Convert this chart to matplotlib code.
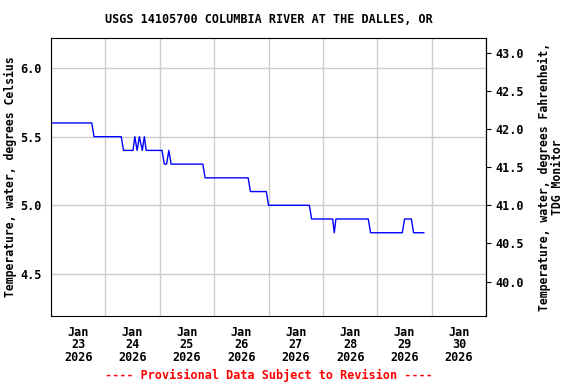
import matplotlib
matplotlib.use("Agg")
import matplotlib.pyplot as plt
import numpy as np
import pandas as pd

# Water temperature readings (hours after Jan 23 2026 00:00, degrees C)
hours = [0, 18, 19, 31, 32, 36.2, 37, 38, 39, 40.3, 41.2, 42, 49, 50, 51, 52, 53,
         67, 68, 87, 88, 95, 96, 114, 115, 124.3, 125, 125.7, 140, 141, 155, 156,
         159, 160, 164.5]
temps = [5.6, 5.6, 5.5, 5.5, 5.4, 5.4, 5.5, 5.4, 5.5, 5.4, 5.5, 5.4, 5.4, 5.3, 5.3, 5.4, 5.3,
         5.3, 5.2, 5.2, 5.1, 5.1, 5.0, 5.0, 4.9, 4.9, 4.8, 4.9, 4.9, 4.8, 4.8, 4.9,
         4.9, 4.8, 4.8]

start = pd.Timestamp("2026-01-23")
times = [start + pd.Timedelta(hours=h) for h in hours]
days = pd.date_range("2026-01-23", "2026-01-31", freq="D")

font = "DejaVu Sans Mono"
fs = 8.5

fig = plt.figure(figsize=(5.76, 3.84), dpi=100)
ax = fig.add_axes([0.0885, 0.177, 0.7555, 0.724])
ax.plot(times, temps, color="blue", linewidth=1)

ax.set_xlim(days[0], days[-1])
ax.set_ylim(4.193, 6.219)
ax.set_yticks([4.5, 5.0, 5.5, 6.0])
ax.set_yticklabels(["4.5", "5.0", "5.5", "6.0"], fontfamily=font, fontweight="bold", fontsize=fs)
ax.tick_params(axis="y", length=0, pad=6.5)

# midnight gridlines, labels centred at noon
ax.set_xticks(days)
ax.set_xticklabels([])
ax.tick_params(axis="x", which="major", length=0)
noon = days[:-1] + pd.Timedelta(hours=12)
ax.set_xticks(noon, minor=True)
ax.set_xticklabels([f"Jan\n{d.day}\n{d.year}" for d in days[:-1]], minor=True,
                   fontfamily=font, fontweight="bold", fontsize=fs, linespacing=0.95)
ax.tick_params(axis="x", which="minor", length=0, pad=7)
ax.grid(True, color="#cccccc", linewidth=1)
ax.set_axisbelow(True)

ax.set_ylabel("Temperature, water, degrees Celsius", fontfamily=font,
              fontweight="bold", fontsize=8.3)
ax.yaxis.set_label_coords(-0.078, 0.5)

sec = ax.secondary_yaxis("right", functions=(lambda c: c * 1.8 + 32, lambda f: (f - 32) / 1.8))
fticks = [40.0, 40.5, 41.0, 41.5, 42.0, 42.5, 43.0]
sec.set_yticks(fticks)
sec.set_yticklabels([f"{v:.1f}" for v in fticks], fontfamily=font, fontweight="bold", fontsize=fs)
sec.set_ylabel("Temperature, water, degrees Fahrenheit,\nTDG Monitor", fontfamily=font,
               fontweight="bold", fontsize=8.3, labelpad=10, linespacing=0.95)

fig.text(0.466, 0.95, "USGS 14105700 COLUMBIA RIVER AT THE DALLES, OR", ha="center",
         va="center", fontfamily=font, fontweight="bold", fontsize=fs)
fig.text(0.466, 0.023, "---- Provisional Data Subject to Revision ----", ha="center",
         va="center", color="red", fontfamily=font, fontweight="bold", fontsize=fs)

fig.savefig("out.png", dpi=100)
